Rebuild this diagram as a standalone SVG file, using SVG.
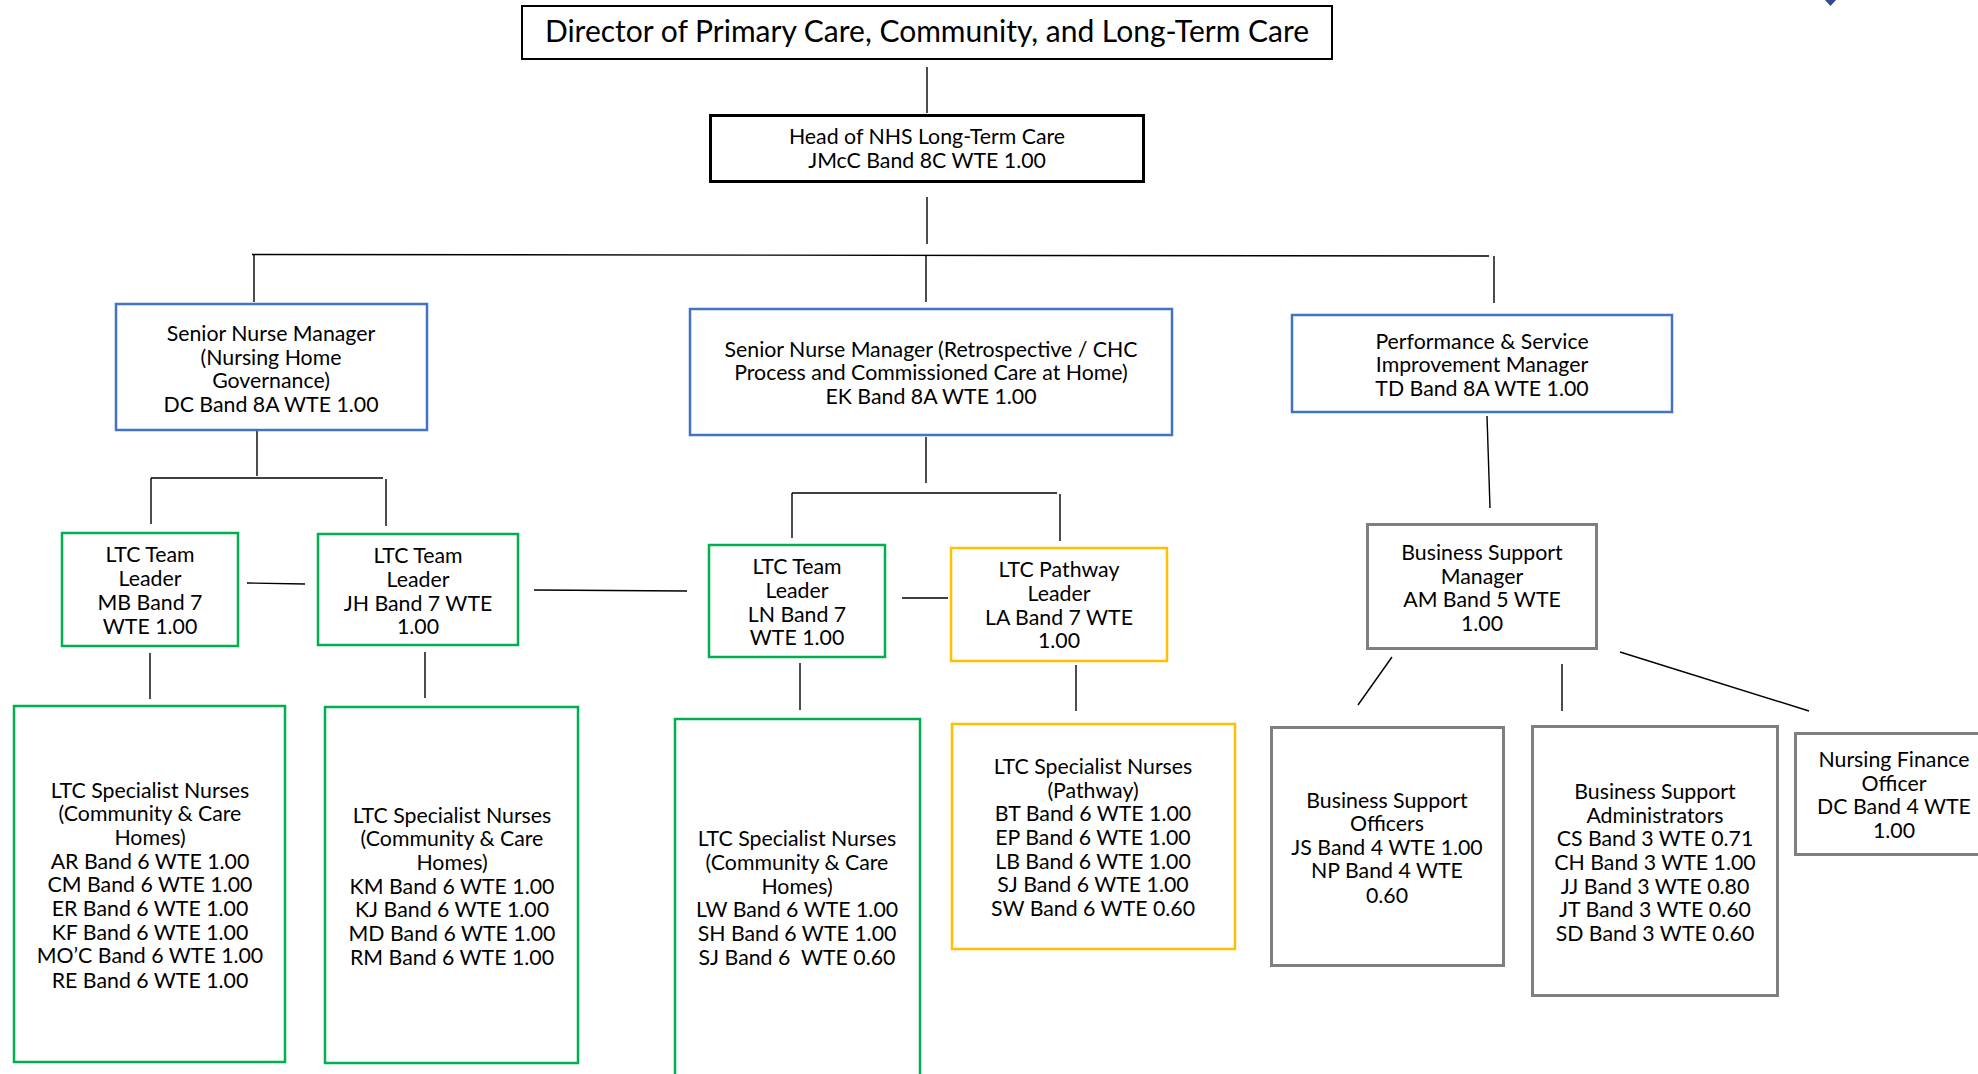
<svg xmlns="http://www.w3.org/2000/svg" width="1978" height="1074" viewBox="0 0 1978 1074">
<style>
  .bg{fill:#ffffff}
  text{font-family:Lato,"Liberation Sans",sans-serif;font-size:21.3px;fill:#000;text-anchor:middle}
  .big{font-size:30px}
  .box{fill:#ffffff;stroke-width:2.5}
  .blk{stroke:#000000}
  .blue{stroke:#4472C4}
  .green{stroke:#00B050}
  .yellow{stroke:#FFC000}
  .gray{stroke:#7F7F7F;stroke-width:3}
  .conn line{stroke:#000000;stroke-width:1.4}
</style>
<rect class="bg" x="0" y="0" width="1978" height="1074"/>
<polygon points="1825,0 1836,0 1830.5,6" fill="#2F4B8C"/>

<g id="connectors" class="conn">
  <line x1="927" y1="67" x2="927" y2="113"/>
  <line x1="927" y1="197" x2="927" y2="244"/>
  <line x1="252" y1="254.5" x2="1489" y2="256"/>
  <line x1="254" y1="254.5" x2="254" y2="302"/>
  <line x1="926" y1="255" x2="926" y2="302"/>
  <line x1="1494" y1="256" x2="1494" y2="303"/>
  <line x1="257" y1="430" x2="257" y2="476"/>
  <line x1="151" y1="478" x2="383" y2="478"/>
  <line x1="151" y1="478" x2="151" y2="524"/>
  <line x1="386" y1="479" x2="386" y2="526"/>
  <line x1="247" y1="583" x2="305" y2="584"/>
  <line x1="534" y1="590" x2="687" y2="591"/>
  <line x1="150" y1="653" x2="150" y2="699"/>
  <line x1="425" y1="652" x2="425" y2="698"/>
  <line x1="926" y1="437" x2="926" y2="483"/>
  <line x1="792" y1="493" x2="1057" y2="493"/>
  <line x1="792" y1="493" x2="792" y2="538"/>
  <line x1="1060" y1="494" x2="1060" y2="541"/>
  <line x1="902" y1="598" x2="948" y2="598"/>
  <line x1="800" y1="663" x2="800" y2="710"/>
  <line x1="1076" y1="665" x2="1076" y2="711"/>
  <line x1="1487" y1="416" x2="1490" y2="508"/>
  <line x1="1392" y1="657" x2="1358" y2="705"/>
  <line x1="1562" y1="664" x2="1562" y2="711"/>
  <line x1="1620" y1="652" x2="1809" y2="711"/>
</g>

<g id="director">
  <rect class="box blk" x="522" y="6" width="810" height="53" style="stroke-width:2"/>
  <text class="big" x="927" y="42">Director of Primary Care, Community, and Long-Term Care</text>
</g>

<g id="head">
  <rect class="box blk" x="710.5" y="115.5" width="433" height="66" style="stroke-width:3"/>
  <text x="927"><tspan x="927" y="143.5">Head of NHS Long-Term Care</tspan><tspan x="927" y="167.5">JMcC Band 8C WTE 1.00</tspan></text>
</g>

<g id="snm-nursing-home">
  <rect class="box blue" x="116" y="304" width="311" height="126"/>
  <text><tspan x="271" y="340.5">Senior Nurse Manager</tspan><tspan x="271" y="364.5">(Nursing Home</tspan><tspan x="271" y="387.5">Governance)</tspan><tspan x="271" y="411.5">DC Band 8A WTE 1.00</tspan></text>
</g>

<g id="snm-retrospective">
  <rect class="box blue" x="690" y="309" width="482" height="126"/>
  <text><tspan x="931" y="356.5">Senior Nurse Manager (Retrospective / CHC</tspan><tspan x="931" y="380">Process and Commissioned Care at Home)</tspan><tspan x="931" y="403.5">EK Band 8A WTE 1.00</tspan></text>
</g>

<g id="psim">
  <rect class="box blue" x="1292" y="315" width="380" height="97"/>
  <text><tspan x="1482" y="348.5">Performance &amp; Service</tspan><tspan x="1482" y="371.5">Improvement Manager</tspan><tspan x="1482" y="395.5">TD Band 8A WTE 1.00</tspan></text>
</g>

<g id="ltc-tl-mb">
  <rect class="box green" x="62" y="533" width="176" height="113"/>
  <text><tspan x="150" y="561.5">LTC Team</tspan><tspan x="150" y="585.5">Leader</tspan><tspan x="150" y="609.5">MB Band 7</tspan><tspan x="150" y="633.5">WTE 1.00</tspan></text>
</g>

<g id="ltc-tl-jh">
  <rect class="box green" x="318" y="534" width="200" height="111"/>
  <text><tspan x="418" y="562.5">LTC Team</tspan><tspan x="418" y="586.5">Leader</tspan><tspan x="418" y="610.5">JH Band 7 WTE</tspan><tspan x="418" y="633.5">1.00</tspan></text>
</g>

<g id="ltc-tl-ln">
  <rect class="box green" x="709" y="545" width="176" height="112"/>
  <text><tspan x="797" y="573.5">LTC Team</tspan><tspan x="797" y="597.5">Leader</tspan><tspan x="797" y="621.5">LN Band 7</tspan><tspan x="797" y="644.5">WTE 1.00</tspan></text>
</g>

<g id="ltc-pathway-la">
  <rect class="box yellow" x="951" y="548" width="216" height="113"/>
  <text><tspan x="1059" y="576.5">LTC Pathway</tspan><tspan x="1059" y="600.5">Leader</tspan><tspan x="1059" y="624.5">LA Band 7 WTE</tspan><tspan x="1059" y="647.5">1.00</tspan></text>
</g>

<g id="bsm">
  <rect class="box gray" x="1367.5" y="524.5" width="229" height="124"/>
  <text><tspan x="1482" y="559.5">Business Support</tspan><tspan x="1482" y="583.5">Manager</tspan><tspan x="1482" y="606.5">AM Band 5 WTE</tspan><tspan x="1482" y="630.5">1.00</tspan></text>
</g>

<g id="nurses-mb">
  <rect class="box green" x="14" y="706" width="271" height="356"/>
  <text><tspan x="150" y="797.5">LTC Specialist Nurses</tspan><tspan x="150" y="820.5">(Community &amp; Care</tspan><tspan x="150" y="844.5">Homes)</tspan><tspan x="150" y="868.5">AR Band 6 WTE 1.00</tspan><tspan x="150" y="891.5">CM Band 6 WTE 1.00</tspan><tspan x="150" y="915.5">ER Band 6 WTE 1.00</tspan><tspan x="150" y="939.5">KF Band 6 WTE 1.00</tspan><tspan x="150" y="962.5">MO’C Band 6 WTE 1.00</tspan><tspan x="150" y="987.5">RE Band 6 WTE 1.00</tspan></text>
</g>

<g id="nurses-jh">
  <rect class="box green" x="325" y="707" width="253" height="356"/>
  <text><tspan x="452" y="822.5">LTC Specialist Nurses</tspan><tspan x="452" y="845.5">(Community &amp; Care</tspan><tspan x="452" y="869.5">Homes)</tspan><tspan x="452" y="893.5">KM Band 6 WTE 1.00</tspan><tspan x="452" y="916.5">KJ Band 6 WTE 1.00</tspan><tspan x="452" y="940.5">MD Band 6 WTE 1.00</tspan><tspan x="452" y="964.5">RM Band 6 WTE 1.00</tspan></text>
</g>

<g id="nurses-ln">
  <rect class="box green" x="675" y="719" width="245" height="358"/>
  <text><tspan x="797" y="845.5">LTC Specialist Nurses</tspan><tspan x="797" y="869.5">(Community &amp; Care</tspan><tspan x="797" y="893.5">Homes)</tspan><tspan x="797" y="916.5">LW Band 6 WTE 1.00</tspan><tspan x="797" y="940.5">SH Band 6 WTE 1.00</tspan><tspan x="797" y="964.5" style="white-space:pre">SJ Band 6  WTE 0.60</tspan></text>
</g>

<g id="nurses-pathway">
  <rect class="box yellow" x="952" y="724" width="283" height="225"/>
  <text><tspan x="1093" y="773.5">LTC Specialist Nurses</tspan><tspan x="1093" y="797.5">(Pathway)</tspan><tspan x="1093" y="820.5">BT Band 6 WTE 1.00</tspan><tspan x="1093" y="844.5">EP Band 6 WTE 1.00</tspan><tspan x="1093" y="868.5">LB Band 6 WTE 1.00</tspan><tspan x="1093" y="891.5">SJ Band 6 WTE 1.00</tspan><tspan x="1093" y="915.5">SW Band 6 WTE 0.60</tspan></text>
</g>

<g id="bs-officers">
  <rect class="box gray" x="1271.5" y="727.5" width="232" height="238"/>
  <text><tspan x="1387" y="807.5">Business Support</tspan><tspan x="1387" y="830.5">Officers</tspan><tspan x="1387" y="854.5">JS Band 4 WTE 1.00</tspan><tspan x="1387" y="877.5">NP Band 4 WTE</tspan><tspan x="1387" y="902.5">0.60</tspan></text>
</g>

<g id="bs-administrators">
  <rect class="box gray" x="1532.5" y="726.5" width="245" height="269"/>
  <text><tspan x="1655" y="798.5">Business Support</tspan><tspan x="1655" y="822.5">Administrators</tspan><tspan x="1655" y="845.5">CS Band 3 WTE 0.71</tspan><tspan x="1655" y="869.5">CH Band 3 WTE 1.00</tspan><tspan x="1655" y="893.5">JJ Band 3 WTE 0.80</tspan><tspan x="1655" y="916.5">JT Band 3 WTE 0.60</tspan><tspan x="1655" y="940.5">SD Band 3 WTE 0.60</tspan></text>
</g>

<g id="nursing-finance">
  <rect class="box gray" x="1795.5" y="733.5" width="197" height="121"/>
  <text><tspan x="1894" y="766.5">Nursing Finance</tspan><tspan x="1894" y="790.5">Officer</tspan><tspan x="1894" y="813.5">DC Band 4 WTE</tspan><tspan x="1894" y="837.5">1.00</tspan></text>
</g>
</svg>
